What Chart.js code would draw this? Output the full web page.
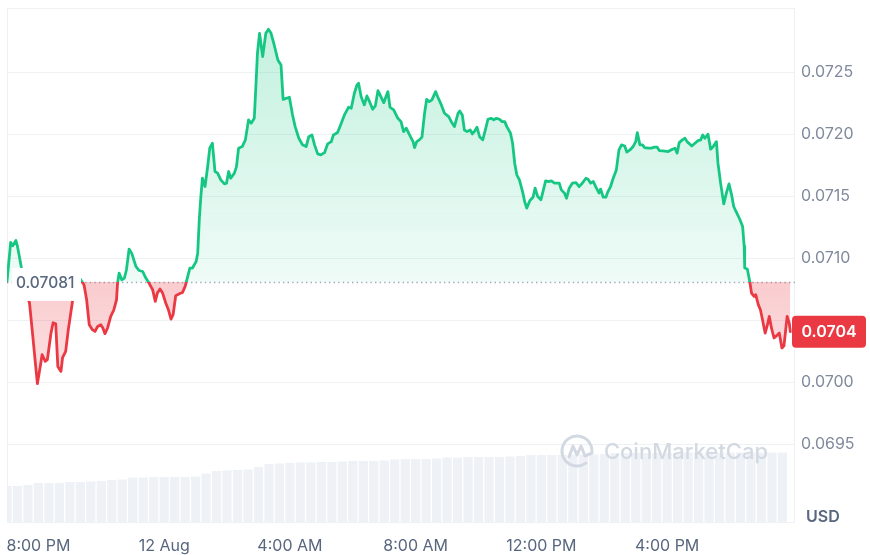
<!DOCTYPE html>
<html>
<head>
<meta charset="utf-8">
<script src="https://cdn.jsdelivr.net/npm/chart.js@4.4.1/dist/chart.umd.min.js"></script>
<style>
  html, body { margin: 0; padding: 0; background: #fff; }
  #wrap { width: 870px; height: 555px; }
</style>
</head>
<body>
<div id="wrap"><canvas id="priceChart"></canvas></div>
<script>
// Price in USD, times are minutes after 7:00 PM (11 Aug)
const priceTimes = [
  0, 7, 11, 17, 20, 28, 32, 38, 43, 48,
  58, 64, 67, 73, 77, 84, 88, 93, 97, 103,
  106, 112, 117, 125, 130, 138, 147, 152, 157, 163,
  168, 173, 179, 183, 187, 192, 198, 204, 209, 211,
  214, 219, 224, 228, 233, 238, 246, 252, 259, 265,
  271, 278, 283, 287, 292, 297, 303, 308, 313, 317,
  322, 329, 335, 340, 345, 349, 354, 361, 364, 367,
  370, 373, 378, 383, 387, 392, 397, 402, 408, 415,
  419, 423, 427, 434, 438, 442, 449, 455, 461, 466,
  472, 475, 478, 482, 488, 494, 499, 504, 510, 517,
  523, 527, 534, 539, 545, 550, 557, 564, 571, 576,
  582, 587, 593, 599, 606, 612, 619, 623, 631, 638,
  644, 652, 657, 663, 668, 671, 676, 682, 687, 692,
  698, 703, 708, 712, 719, 727, 731, 738, 746, 752,
  757, 762, 770, 775, 778, 782, 787, 792, 797, 801,
  806, 811, 818, 822, 829, 835, 843, 848, 854, 861,
  864, 869, 873, 878, 884, 888, 892, 897, 902, 908,
  913, 918, 924, 929, 934, 940, 945, 950, 954, 961,
  965, 969, 973, 978, 984, 988, 992, 998, 1004, 1008,
  1013, 1019, 1023, 1028, 1034, 1039, 1045, 1054, 1058, 1064,
  1068, 1073, 1079, 1086, 1092, 1098, 1105, 1109, 1114, 1119,
  1125, 1130, 1133, 1138, 1143, 1147, 1152, 1157, 1163, 1168,
  1173, 1179, 1183, 1189, 1195, 1200, 1203, 1208, 1213, 1217,
  1224, 1230, 1236, 1241, 1245, 1252, 1262, 1270, 1275, 1279,
  1283, 1289, 1294, 1298, 1307, 1313, 1319, 1324, 1328, 1332,
  1338, 1343, 1348, 1354, 1357, 1362, 1368, 1373, 1378, 1383,
  1387, 1393, 1399, 1404, 1407, 1408, 1413, 1418, 1421, 1426,
  1429, 1434, 1438, 1442, 1447, 1451, 1455, 1459, 1464, 1469,
  1474, 1479, 1483, 1489, 1493, 1495
];

const prices = [
  0.070814, 0.071128, 0.071101, 0.071144, 0.071096, 0.070914, 0.070814, 0.070707, 0.070640, 0.070425,
  0.069990, 0.070143, 0.070224, 0.070170, 0.070183, 0.070398, 0.070481, 0.070473, 0.070129, 0.070089,
  0.070199, 0.070250, 0.070425, 0.070653, 0.070803, 0.070844, 0.070787, 0.070666, 0.070465, 0.070425,
  0.070411, 0.070451, 0.070465, 0.070439, 0.070393, 0.070439, 0.070532, 0.070586, 0.070666, 0.070801,
  0.070881, 0.070827, 0.070841, 0.070908, 0.071075, 0.071042, 0.070935, 0.070902, 0.070894, 0.070841,
  0.070801, 0.070747, 0.070653, 0.070720, 0.070753, 0.070720, 0.070640, 0.070586, 0.070511, 0.070546,
  0.070699, 0.070715, 0.070725, 0.070774, 0.070854, 0.070922, 0.070922, 0.070975, 0.071042, 0.071311,
  0.071498, 0.071646, 0.071579, 0.071740, 0.071888, 0.071928, 0.071700, 0.071687, 0.071633, 0.071600,
  0.071606, 0.071700, 0.071646, 0.071687, 0.071740, 0.071888, 0.071901, 0.071955, 0.072116, 0.072089,
  0.072129, 0.072384, 0.072653, 0.072814, 0.072626, 0.072814, 0.072846, 0.072814, 0.072720, 0.072599,
  0.072559, 0.072282, 0.072291, 0.072299, 0.072156, 0.072062, 0.071968, 0.071915, 0.071901, 0.071981,
  0.071995, 0.071915, 0.071842, 0.071834, 0.071852, 0.071923, 0.071941, 0.071995, 0.072014, 0.072089,
  0.072156, 0.072218, 0.072210, 0.072331, 0.072398, 0.072411, 0.072303, 0.072237, 0.072309, 0.072263,
  0.072202, 0.072229, 0.072352, 0.072317, 0.072255, 0.072344, 0.072218, 0.072196, 0.072129, 0.072102,
  0.072022, 0.072049, 0.071981, 0.071941, 0.071893, 0.071941, 0.071955, 0.071977, 0.072170, 0.072282,
  0.072263, 0.072277, 0.072344, 0.072303, 0.072237, 0.072170, 0.072142, 0.072102, 0.072062, 0.072170,
  0.072188, 0.072156, 0.072035, 0.072022, 0.072035, 0.072003, 0.072022, 0.072057, 0.071981, 0.071955,
  0.072035, 0.072121, 0.072129, 0.072116, 0.072129, 0.072121, 0.072102, 0.072102, 0.072062, 0.072009,
  0.071928, 0.071767, 0.071673, 0.071633, 0.071538, 0.071458, 0.071405, 0.071466, 0.071493, 0.071566,
  0.071498, 0.071472, 0.071538, 0.071625, 0.071619, 0.071625, 0.071606, 0.071606, 0.071552, 0.071526,
  0.071485, 0.071566, 0.071606, 0.071611, 0.071579, 0.071606, 0.071646, 0.071638, 0.071606, 0.071619,
  0.071566, 0.071526, 0.071558, 0.071493, 0.071493, 0.071538, 0.071579, 0.071646, 0.071713, 0.071874,
  0.071915, 0.071906, 0.071856, 0.071874, 0.071901, 0.071941, 0.072014, 0.071915, 0.071915, 0.071893,
  0.071888, 0.071888, 0.071896, 0.071896, 0.071869, 0.071866, 0.071861, 0.071880, 0.071888, 0.071848,
  0.071933, 0.071955, 0.071968, 0.071941, 0.071906, 0.071928, 0.071949, 0.071955, 0.071995, 0.071968,
  0.072001, 0.071880, 0.071901, 0.071941, 0.071767, 0.071606, 0.071439, 0.071526, 0.071600, 0.071512,
  0.071418, 0.071365, 0.071311, 0.071257, 0.071096, 0.070922, 0.070914, 0.070806, 0.070720, 0.070693,
  0.070707, 0.070626, 0.070586, 0.070505, 0.070398, 0.070457, 0.070532, 0.070439, 0.070358, 0.070377,
  0.070398, 0.070278, 0.070296, 0.070532, 0.070479, 0.070409
];

// Rolling 24h volume (millions USD, approx), one bar every 20 minutes
const volumeTimes = [
  0, 20, 40, 60, 80, 100, 120, 140, 160, 180,
  200, 220, 240, 260, 280, 300, 320, 340, 360, 380,
  400, 420, 440, 460, 480, 500, 520, 540, 560, 580,
  600, 620, 640, 660, 680, 700, 720, 740, 760, 780,
  800, 820, 840, 860, 880, 900, 920, 940, 960, 980,
  1000, 1020, 1040, 1060, 1080, 1100, 1120, 1140, 1160, 1180,
  1200, 1220, 1240, 1260, 1280, 1300, 1320, 1340, 1360, 1380,
  1400, 1420, 1440, 1460, 1480
];
const volumes = [
  3.6, 3.6, 3.7, 3.9, 3.9, 3.9, 4.0, 4.0, 4.05, 4.1,
  4.2, 4.25, 4.45, 4.45, 4.5, 4.5, 4.5, 4.5, 4.55, 4.85,
  5.1, 5.15, 5.2, 5.25, 5.5, 5.8, 5.85, 5.9, 5.95, 5.95,
  6.0, 6.0, 6.05, 6.1, 6.1, 6.1, 6.15, 6.25, 6.3, 6.3,
  6.3, 6.35, 6.45, 6.45, 6.5, 6.5, 6.5, 6.5, 6.55, 6.6,
  6.7, 6.7, 6.7, 6.7, 6.75, 6.75, 6.75, 6.8, 6.9, 6.9,
  6.9, 6.9, 6.9, 6.9, 6.9, 6.95, 6.95, 6.95, 6.95, 6.95,
  6.95, 6.95, 6.95, 6.95, 6.95
];

const xTickValues = [60, 300, 540, 780, 1020, 1260];
const xTickLabels = ['8:00 PM', '12 Aug', '4:00 AM', '8:00 AM', '12:00 PM', '4:00 PM'];
const yTickValues = [0.0695, 0.0700, 0.0705, 0.0710, 0.0715, 0.0720, 0.0725];

const BASE_PRICE = 0.07081; // open price of the period
const LAST_PRICE = prices[prices.length - 1];
const GREEN = '#16c784';
const RED = '#ea3943';

Chart.defaults.font.family = 'Inter, "Noto Sans", sans-serif';

// fraction of chart height where the open price sits
function splitAt(chart) {
    const area = chart.chartArea;
    const yBase = chart.scales.y.getPixelForValue(BASE_PRICE);
    return Math.min(1, Math.max(0, (yBase - area.top) / (area.bottom - area.top)));
}

function lineColor(context) {
    const chart = context.chart;
    if (!chart.chartArea) return GREEN;
    const { top, bottom } = chart.chartArea;
    const s = splitAt(chart);
    const g = chart.ctx.createLinearGradient(0, top, 0, bottom);
    g.addColorStop(0, GREEN);
    g.addColorStop(s, GREEN);
    g.addColorStop(s, RED);
    g.addColorStop(1, RED);
    return g;
}

function fillColor(context) {
    const chart = context.chart;
    if (!chart.chartArea) return 'rgba(22,199,132,0.15)';
    const { top, bottom } = chart.chartArea;
    const s = splitAt(chart);
    const g = chart.ctx.createLinearGradient(0, top, 0, bottom);
    g.addColorStop(0, 'rgba(22,199,132,0.27)');
    g.addColorStop(s, 'rgba(22,199,132,0.07)');
    g.addColorStop(s, 'rgba(234,57,67,0.26)');
    g.addColorStop(1, 'rgba(234,57,67,0)');
    return g;
}

// drop the label overhang padding Chart.js adds, layout.padding does the job
function noOverhang(axis) {
    axis.paddingTop = 0;
    axis.paddingBottom = 0;
    axis.paddingLeft = 0;
    axis.paddingRight = 0;
}

const decor = {
    id: 'decor',
    beforeDatasetsDraw(chart) {
        const { ctx, chartArea: a, scales: { y } } = chart;
        ctx.save();
        // frame around the plot
        ctx.strokeStyle = '#eff2f5';
        ctx.lineWidth = 1;
        ctx.strokeRect(a.left + 0.5, a.top + 0.5, a.right - a.left - 1, a.bottom - a.top);

        // dotted open price line
        const yb = Math.round(y.getPixelForValue(BASE_PRICE)) + 0.5;
        ctx.strokeStyle = '#a1a9b8';
        ctx.lineWidth = 1.3;
        ctx.setLineDash([1.4, 3.2]);
        ctx.beginPath();
        ctx.moveTo(a.left, yb);
        ctx.lineTo(a.right, yb);
        ctx.stroke();
        ctx.restore();
    },
    afterDatasetsDraw(chart) {
        const { ctx, chartArea: a, scales: { y } } = chart;
        const yb = y.getPixelForValue(BASE_PRICE);
        ctx.save();

        // open price label
        ctx.fillStyle = '#fff';
        ctx.fillRect(a.left + 5, yb - 14, 69, 33);
        ctx.fillStyle = '#58667e';
        ctx.font = '500 15.5px Inter, sans-serif';
        ctx.textAlign = 'left';
        ctx.textBaseline = 'middle';
        ctx.fillText(BASE_PRICE.toFixed(5), a.left + 9, yb + 1);

        // watermark
        const wc = '#d3d9e2';
        const cx = a.right - 218;
        const cy = a.bottom - 71;
        ctx.strokeStyle = wc;
        ctx.lineWidth = 3;
        ctx.lineJoin = 'round';
        ctx.lineCap = 'round';
        ctx.beginPath();
        ctx.arc(cx, cy, 15, 0.3 * Math.PI, 2 * Math.PI);
        ctx.stroke();
        ctx.beginPath();
        ctx.moveTo(cx - 8, cy + 6);
        ctx.lineTo(cx - 4, cy - 5);
        ctx.lineTo(cx, cy + 4);
        ctx.lineTo(cx + 4, cy - 5);
        ctx.lineTo(cx + 8, cy + 5);
        ctx.lineTo(cx + 15, cy + 2);
        ctx.stroke();
        ctx.fillStyle = wc;
        ctx.font = '500 22px Inter, sans-serif';
        ctx.textAlign = 'right';
        ctx.fillText('CoinMarketCap', a.right - 27, cy + 1);
        ctx.restore();
    },
    afterDraw(chart) {
        const { ctx, chartArea: a, scales: { y } } = chart;
        const yl = y.getPixelForValue(LAST_PRICE);
        ctx.save();

        // current price tag
        ctx.fillStyle = RED;
        ctx.beginPath();
        ctx.roundRect(a.right - 3, yl - 16, 74, 32, 4);
        ctx.fill();
        ctx.fillStyle = '#fff';
        ctx.font = '600 16px Inter, sans-serif';
        ctx.textAlign = 'center';
        ctx.textBaseline = 'middle';
        ctx.fillText(LAST_PRICE.toFixed(4), a.right + 34, yl + 1);

        // currency label
        ctx.fillStyle = '#58667e';
        ctx.textAlign = 'left';
        ctx.fillText('USD', a.right + 11, a.bottom - 5);
        ctx.restore();
    }
};

new Chart(document.getElementById('priceChart'), {
    type: 'line',
    data: {
        datasets: [
            {
                type: 'line',
                label: 'Price',
                data: priceTimes.map((t, i) => ({ x: t, y: prices[i] })),
                yAxisID: 'y',
                borderColor: lineColor,
                backgroundColor: fillColor,
                borderWidth: 2.8,
                borderJoinStyle: 'round',
                borderCapStyle: 'round',
                pointRadius: 0,
                tension: 0,
                fill: { target: { value: BASE_PRICE } },
                order: 1
            },
            {
                type: 'bar',
                label: 'Volume',
                data: volumeTimes.map((t, i) => ({ x: t, y: volumes[i] })),
                yAxisID: 'vol',
                backgroundColor: '#eef1f5',
                categoryPercentage: 1,
                barPercentage: 0.88,
                order: 2
            }
        ]
    },
    options: {
        responsive: true,
        maintainAspectRatio: false,
        animation: false,
        layout: { padding: { left: 7, top: 8, right: 0, bottom: 0 } },
        plugins: {
            legend: { display: false },
            tooltip: { enabled: false }
        },
        scales: {
            x: {
                type: 'linear',
                min: 0,
                max: 1504,
                offset: false,
                grid: { display: false, drawTicks: false },
                border: { display: false },
                afterBuildTicks: axis => { axis.ticks = xTickValues.map(v => ({ value: v })); },
                afterFit: axis => { axis.height = 33; noOverhang(axis); },
                ticks: {
                    autoSkip: false,
                    maxRotation: 0,
                    padding: 15,
                    color: '#58667e',
                    font: { size: 16 },
                    callback: v => xTickLabels[xTickValues.indexOf(v)]
                }
            },
            y: {
                position: 'right',
                min: 0.068875,
                max: 0.073018,
                grid: { color: '#eff2f5', drawTicks: false },
                border: { display: false },
                afterBuildTicks: axis => { axis.ticks = yTickValues.map(v => ({ value: v })); },
                afterFit: axis => { axis.width = 75; noOverhang(axis); },
                ticks: {
                    padding: 6,
                    color: '#808a9d',
                    font: { size: 16 },
                    // the price tag hides the tick it sits on
                    callback: v => Math.abs(v - LAST_PRICE) < 0.0002 ? '' : v.toFixed(4)
                }
            },
            vol: {
                display: false,
                min: 0,
                max: 51.4
            }
        }
    },
    plugins: [decor]
});
</script>
</body>
</html>
